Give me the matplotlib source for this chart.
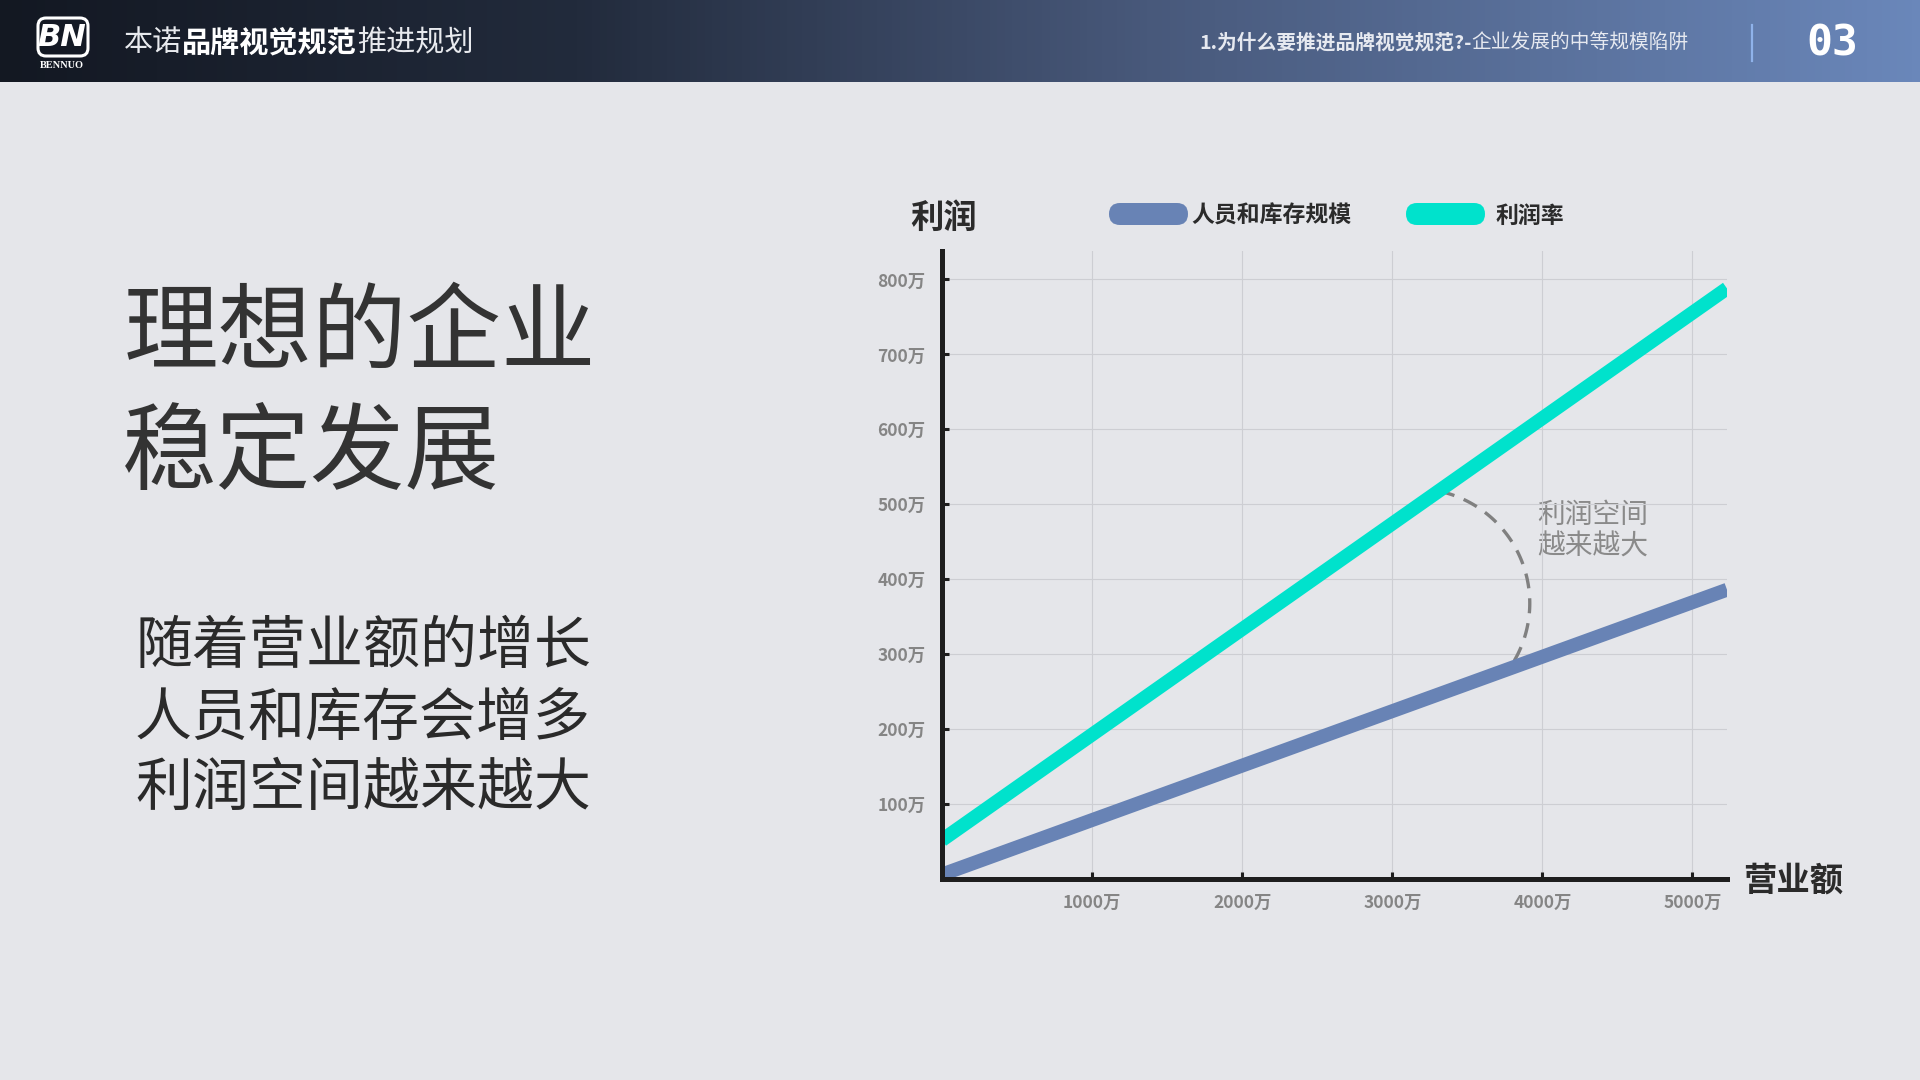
import numpy as np
import matplotlib.pyplot as plt
from matplotlib.colors import LinearSegmentedColormap
from matplotlib.patches import FancyBboxPatch

plt.rcParams['font.family'] = ['Noto Sans CJK SC', 'DejaVu Sans']

# ---- data (万) ----
revenue = [0, 5230]
staff_stock = [6, 386]      # 人员和库存规模
profit = [52, 788]          # 利润率
series_names = ['人员和库存规模', '利润率']
series_colors = ['#6883b5', '#00e2cc']

x_ticks = [1000, 2000, 3000, 4000, 5000]
x_labels = ['1000万', '2000万', '3000万', '4000万', '5000万']
y_ticks = [100, 200, 300, 400, 500, 600, 700, 800]
y_labels = ['100万', '200万', '300万', '400万', '500万', '600万', '700万', '800万']
x_max, y_max = 5230, 838

# annotation arc: centre (data), radii (data), angle span (deg, screen)
gap_center = (3150, 368)
gap_radius = (766, 153)
gap_span = (-30, 78)

bg_color = '#e5e6ea'
dark = '#2b2b2b'

fig = plt.figure(figsize=(19.2, 10.8), dpi=100, facecolor=bg_color)

# background / pixel-space axes
bg = fig.add_axes([0, 0, 1, 1], zorder=0)
bg.set_facecolor(bg_color)

# header gradient
cmap = LinearSegmentedColormap.from_list(
    'hdr', [(0, '#131822'), (0.3, '#222b3c'), (0.6, '#48597b'), (1.0, '#6a87ba')])
bg.imshow(np.linspace(0, 1, 256)[None, :], extent=[0, 1920, 82, 0],
          cmap=cmap, aspect='auto', zorder=0)
bg.set_xlim(0, 1920)
bg.set_ylim(1080, 0)
bg.axis('off')

# logo
bg.add_patch(FancyBboxPatch((38, 18), 50, 38, boxstyle='round,pad=0,rounding_size=8',
                            fc='none', ec='white', lw=2.2, zorder=2))
bg.text(62, 37, 'BN', color='white', fontsize=22, fontweight='bold', style='italic',
        ha='center', va='center', family='DejaVu Sans', zorder=3)
bg.text(62, 65, 'BENNUO', color='white', fontsize=7.5, fontweight='bold',
        ha='center', va='center', family='Liberation Serif', zorder=3)

# header title (mixed weights)
t1 = bg.text(124, 43, '本诺', color='#e8eaee', fontsize=21, va='center', ha='left')
t2 = bg.annotate('品牌视觉规范', xy=(1, 0), xycoords=t1, va='bottom', ha='left',
                 color='white', fontsize=21, fontweight='bold')
bg.annotate('推进规划', xy=(1, 0), xycoords=t2, va='bottom', ha='left',
            color='#e8eaee', fontsize=21)

r1 = bg.text(1199, 43, '1.为什么要推进品牌视觉规范?-', color='#e6e9f0', fontsize=14.2,
             fontweight='bold', va='center', ha='left')
bg.annotate('企业发展的中等规模陷阱', xy=(1, 0), xycoords=r1, va='bottom', ha='left',
            color='#e6e9f0', fontsize=14.2)
bg.plot([1752, 1752], [25, 61], color='#8fb2ea', lw=1.6)
bg.text(1832, 43, '03', color='white', fontsize=31, fontweight='bold',
        family='DejaVu Sans Mono', ha='center', va='center')

# left text
bg.text(124, 335, '理想的企业', fontsize=68, color='#333333', va='center', ha='left')
bg.text(122, 455, '稳定发展', fontsize=68, color='#333333', va='center', ha='left')
for i, line in enumerate(['随着营业额的增长', '人员和库存会增多', '利润空间越来越大']):
    bg.text(135, 647 + 71 * i, line, fontsize=41, color='#2a2a2a', va='center', ha='left')

# chart labels and legend
bg.text(910, 218, '利润', fontsize=24, fontweight='bold', color=dark, va='center')
bg.text(1743, 881, '营业额', fontsize=24, fontweight='bold', color=dark, va='center')
legend_x = [(1109, 1191), (1406, 1496)]
for (px, tx), name, col in zip(legend_x, series_names, series_colors):
    bg.add_patch(FancyBboxPatch((px, 203), 79, 22, boxstyle='round,pad=0,rounding_size=11',
                                fc=col, ec='none'))
    bg.text(tx, 216, name, fontsize=16.5, fontweight='bold', color=dark, va='center')

bg.text(1537, 531, '利润空间\n越来越大', fontsize=20, color='#8a8a8a',
        va='center', ha='left', linespacing=1.05)

# chart axes
ax = fig.add_axes([942 / 1920, 201 / 1080, (1727 - 942) / 1920, (879 - 251) / 1080], zorder=1)
ax.set_facecolor('none')
ax.set_xlim(0, x_max)
ax.set_ylim(0, y_max)

ax.plot(revenue, staff_stock, color=series_colors[0], lw=10, solid_capstyle='butt', zorder=3)
ax.plot(revenue, profit, color=series_colors[1], lw=10, solid_capstyle='butt', zorder=3)

th = np.deg2rad(np.linspace(gap_span[0], gap_span[1], 100))
ax.plot(gap_center[0] + gap_radius[0] * np.cos(th), gap_center[1] + gap_radius[1] * np.sin(th),
        color='#808080', lw=2.4, ls=(0, (4.5, 3)), zorder=2)

ax.set_xticks(x_ticks)
ax.set_xticklabels(x_labels)
ax.set_yticks(y_ticks)
ax.set_yticklabels(y_labels)
ax.grid(True, color='#cdced3', lw=0.8, zorder=0)
ax.set_axisbelow(True)

for s in ['top', 'right']:
    ax.spines[s].set_visible(False)
for s in ['left', 'bottom']:
    ax.spines[s].set_linewidth(3.6)
    ax.spines[s].set_color('#1e1e1e')
    ax.spines[s].set_zorder(4)

ax.tick_params(axis='both', direction='in', length=5, width=2.2, color='#1e1e1e',
               labelcolor='#858585', labelsize=12.5)
ax.tick_params(axis='y', pad=12)
ax.tick_params(axis='x', pad=11)
for lab in ax.get_xticklabels() + ax.get_yticklabels():
    lab.set_fontweight('bold')

fig.savefig('out.png', dpi=100, facecolor=bg_color)
